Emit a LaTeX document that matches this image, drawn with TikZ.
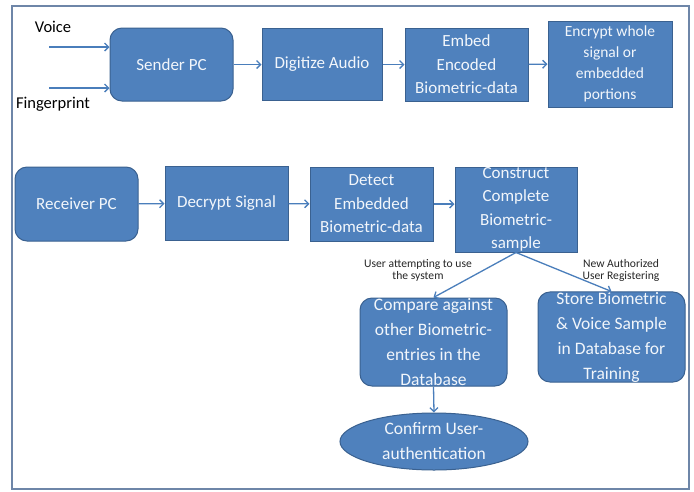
\documentclass[tikz,border=0pt]{standalone}
\usepackage{fontspec}
\setmainfont{Carlito}
\usetikzlibrary{arrows.meta,shapes.geometric}
\definecolor{boxfill}{HTML}{4F81BD}
\definecolor{boxline}{HTML}{3A6190}
\definecolor{arrowblue}{HTML}{4A7EBB}
\definecolor{framec}{HTML}{6E86A8}
\definecolor{boxtext}{HTML}{F2F6FB}
\tikzset{
  proc/.style={draw=boxline, line width=1pt, fill=boxfill, text=boxtext,
    align=center, inner sep=0pt},
  procr/.style={proc, rounded corners=12pt},
  big/.style={font=\fontsize{17}{23.5}\selectfont},
  mid/.style={font=\fontsize{15.5}{21}\selectfont},
  large/.style={font=\fontsize{17.5}{25}\selectfont},
  lbl/.style={align=center, text=black!85, font=\fontsize{11.6}{12.8}\selectfont, inner sep=0pt},
  inlbl/.style={text=black, font=\fontsize{16.5}{20}\selectfont, inner sep=0pt},
  arr/.style={draw=arrowblue, line width=1.3pt, -{Straight Barb[length=4pt,width=8pt]}},
}
\begin{document}
\begin{tikzpicture}[x=1pt,y=-1pt]
\useasboundingbox (0,0) rectangle (694,491);
\fill[white] (0,0) rectangle (694,491);
\draw[framec, line width=1.5pt] (12,6) rectangle (689,489);

% sending side
\node[procr, big, minimum width=123pt, minimum height=73pt] (sender) at (171.5,64.5) {Sender PC};
\node[proc, big, minimum width=120pt, minimum height=72pt] (digit) at (322,64.5) {Digitize Audio};
\node[proc, big, minimum width=123pt, minimum height=73pt] (embed) at (466.5,64.5) {Embed\\Encoded\\Biometric-data};
\node[proc, mid, minimum width=124pt, minimum height=86pt] (encrypt) at (610,64) {Encrypt whole\\signal or\\embedded\\portions};

\node[inlbl] (voice) at (53,27) {Voice};
\node[inlbl] (finger) at (53,104) {Fingerprint};
\coordinate (vin) at (49,47);
\coordinate (fin) at (49,88);
\draw[arr] (vin) -- (vin -| sender.west);
\draw[arr] (fin) -- (fin -| sender.west);
\draw[arr] (sender) -- (digit);
\draw[arr] (digit) -- (embed);
\draw[arr] (embed) -- (encrypt);

% receiving side
\node[procr, big, minimum width=123pt, minimum height=74pt] (receiver) at (76.5,204) {Receiver PC};
\node[proc, big, minimum width=123pt, minimum height=74pt] (decrypt) at (226.5,203.5) {Decrypt Signal};
\node[proc, big, minimum width=123pt, minimum height=74pt] (detect) at (371.5,204) {Detect\\Embedded\\Biometric-data};
\node[proc, big, minimum width=122pt, minimum height=85pt] (construct) at (516,209.5) {Construct\\Complete\\Biometric-\\sample};

\draw[arr] (receiver) -- (decrypt);
\draw[arr] (decrypt) -- (detect);
\draw[arr] (detect.east) -- (detect.east -| construct.west);

% verification / registration
\node[procr, large, minimum width=147pt, minimum height=88pt] (compare) at (433.5,342) {Compare against\\other Biometric-\\entries in the\\Database};
\node[procr, large, minimum width=147pt, minimum height=84pt] (store) at (611.5,337) {Store Biometric\\\& Voice Sample\\in Database for\\Training};
\node[ellipse, proc, large, minimum width=188pt, minimum height=57pt] (confirm) at (434,441.5) {Confirm User-\\authentication};

\node[lbl] (useatt) at (418,270.5) {User attempting to use\\the system};
\node[lbl] (newusr) at (621,270.5) {New Authorized\\User Registering};

\draw[arr] (construct.south) -- (compare.north);
\draw[arr] (construct.south) -- (store.north);
\draw[arr] (compare.south) -- (confirm.north);
\end{tikzpicture}
\end{document}
